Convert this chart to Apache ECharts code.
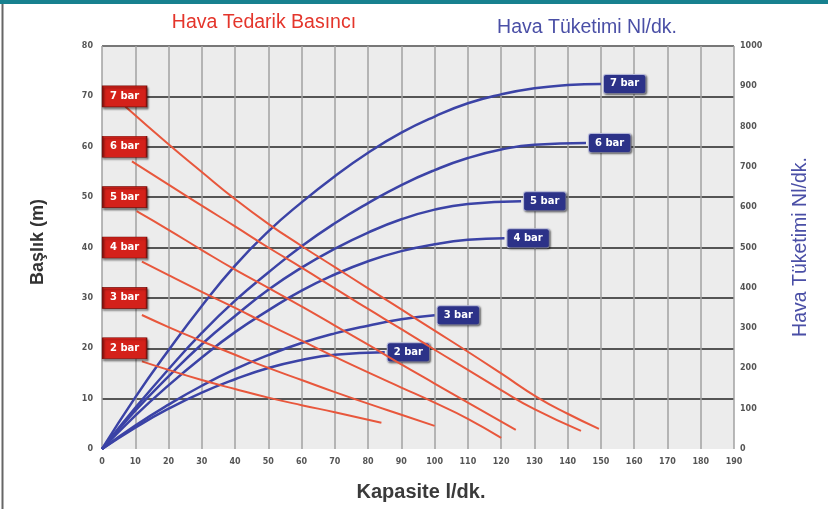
<!DOCTYPE html>
<html>
<head>
<meta charset="utf-8">
<script src="https://cdn.jsdelivr.net/npm/echarts@6/dist/echarts.min.js"></script>
<style>html,body{margin:0;padding:0;background:#fff;}#c{width:828px;height:509px;}</style>
</head>
<body>
<div id="c"></div>
<script>
// ---- data ----
const pressureNames = ['2 bar', '3 bar', '4 bar', '5 bar', '6 bar', '7 bar'];
const labelLevels = [20, 30, 40, 50, 60, 70];

// Head (m) vs capacity (l/dk) — red, left axis
const head2 = [[12, 17.4], [20, 15.7], [30, 13.7], [40, 11.9], [50, 10.2], [60, 8.7], [70, 7.3], [84, 5.2]];
const head3 = [[12, 26.6], [20, 24.2], [30, 21.4], [40, 18.7], [50, 16.1], [60, 13.7], [70, 11.3], [80, 9.0], [90, 6.8], [100, 4.6]];
const head4 = [[12, 37.2], [20, 34.5], [30, 31.2], [40, 28.0], [50, 24.7], [60, 21.5], [70, 18.3], [80, 15.2], [90, 12.2], [100, 9.2], [110, 6.0], [120, 2.2]];
const head5 = [[10.4, 47.2], [20, 43.5], [30, 39.5], [40, 35.6], [50, 32.0], [60, 28.3], [70, 24.5], [80, 20.7], [90, 16.8], [100, 13.0], [110, 9.2], [124.4, 3.8]];
const head6 = [[9, 57.1], [20, 52.5], [30, 48.3], [40, 44.2], [50, 40.0], [60, 36.0], [70, 31.9], [80, 27.8], [90, 23.8], [100, 19.7], [110, 15.7], [120, 11.7], [130, 7.9], [144, 3.6]];
const head7 = [[7, 68.0], [20, 60.5], [30, 55.0], [40, 49.6], [50, 44.7], [60, 40.3], [70, 36.1], [80, 31.9], [90, 27.7], [100, 23.5], [110, 19.3], [120, 15.0], [131, 10.2], [140, 7.0], [149.4, 4.0]];

// Air consumption (Nl/dk) vs capacity — blue, right axis
const air2 = [[0, 0], [10, 53], [20, 100], [30, 140], [40, 173], [50, 201], [60, 221], [70, 234], [85, 240]];
const air3 = [[0, 0], [10, 58], [20, 110], [30, 157], [40, 198], [50, 233], [60, 263], [70, 287], [80, 306], [90, 322], [100, 332]];
const air4 = [[0, 0], [10, 83], [20, 158], [30, 227], [40, 290], [50, 344], [60, 393], [70, 433], [80, 466], [90, 491], [100, 508], [110, 519], [121, 523]];
const air5 = [[0, 0], [10, 95], [20, 180], [30, 260], [40, 330], [50, 395], [60, 450], [70, 497], [80, 537], [90, 570], [100, 594], [110, 608], [126, 615]];
const air6 = [[0, 0], [10, 102], [20, 198], [30, 288], [40, 368], [50, 438], [60, 503], [70, 560], [80, 610], [90, 655], [100, 692], [110, 722], [120, 743], [130, 755], [145.5, 759]];
const air7 = [[0, 0], [10, 128], [20, 245], [30, 355], [40, 455], [50, 540], [60, 612], [70, 677], [80, 735], [90, 785], [100, 825], [110, 858], [120, 880], [130, 895], [140, 903], [150, 906]];

const xTicks = {min: 0, max: 190, interval: 10};
const yLeftTicks = {min: 0, max: 80, interval: 10};
const yRightTicks = {min: 0, max: 1000, interval: 100};

// ---- chart ----
const headSets = [head2, head3, head4, head5, head6, head7];
const airSets = [air2, air3, air4, air5, air6, air7];
const RED = '#e8573c', BLUE = '#3b43a6';
const tickFont = {color: '#555', fontSize: 8, fontWeight: 'bold', fontFamily: 'DejaVu Sans'};

const series = [];
airSets.forEach((d, i) => {
  series.push({
    type: 'line', name: 'air ' + pressureNames[i], yAxisIndex: 1, data: d,
    smooth: true, showSymbol: false, silent: true,
    lineStyle: {color: BLUE, width: 2.5},
    endLabel: {
      show: true, formatter: pressureNames[i], distance: 3,
      color: '#fff', fontSize: 10, fontWeight: 'bold', fontFamily: 'DejaVu Sans',
      backgroundColor: '#2c3288', borderColor: '#b9bce0', borderWidth: 1, borderRadius: 2,
      padding: [4, 6, 4, 6], shadowColor: 'rgba(0,0,0,0.5)', shadowBlur: 2, shadowOffsetX: 1, shadowOffsetY: 1
    },
    z: 3
  });
});
headSets.forEach((d, i) => {
  series.push({
    type: 'line', name: 'head ' + pressureNames[i], yAxisIndex: 0, data: d,
    smooth: true, showSymbol: false, silent: true,
    lineStyle: {color: RED, width: 2},
    markPoint: {
      silent: true, symbol: 'rect', symbolSize: [44, 21],
      itemStyle: {color: '#d4211a', borderColor: '#7a120e', borderWidth: 1,
        shadowColor: 'rgba(0,0,0,0.45)', shadowBlur: 2, shadowOffsetX: 1, shadowOffsetY: 2},
      label: {show: true, formatter: pressureNames[i], color: '#fff', fontSize: 10,
        fontWeight: 'bold', fontFamily: 'DejaVu Sans'},
      data: [{coord: [6.8, labelLevels[i]]}]
    },
    z: 4
  });
});

const chart = echarts.init(document.getElementById('c'), null, {renderer: 'canvas'});
chart.setOption({
  animation: false,
  backgroundColor: '#ffffff',
  grid: {left: 102, right: 94, top: 46, bottom: 60, show: true, backgroundColor: '#ececec', borderWidth: 0},
  xAxis: {
    type: 'value', min: xTicks.min, max: xTicks.max, interval: xTicks.interval,
    axisLine: {show: false}, axisTick: {show: false},
    axisLabel: Object.assign({margin: 9}, tickFont),
    splitLine: {show: true, lineStyle: {color: '#a2a2a2', width: 1.5}}
  },
  yAxis: [{
    type: 'value', min: yLeftTicks.min, max: yLeftTicks.max, interval: yLeftTicks.interval,
    axisLine: {show: false}, axisTick: {show: false},
    axisLabel: Object.assign({margin: 9}, tickFont),
    splitLine: {show: true, lineStyle: {color: ['rgba(0,0,0,0)', '#555', '#555', '#555', '#555', '#555', '#555', '#555', '#777'], width: 2}}
  }, {
    type: 'value', min: yRightTicks.min, max: yRightTicks.max, interval: yRightTicks.interval,
    position: 'right',
    axisLine: {show: false}, axisTick: {show: false},
    axisLabel: Object.assign({margin: 6, formatter: v => String(v)}, tickFont),
    splitLine: {show: false}
  }],
  series: series,
  graphic: [
    {type: 'rect', left: 0, top: 0, shape: {width: 828, height: 509}, style: {fill: 'none', stroke: '#666', lineWidth: 2}, silent: true, z: 100},
    {type: 'rect', left: 0, top: 0, shape: {width: 828, height: 4}, style: {fill: '#17818f'}, silent: true, z: 101},
    {type: 'text', x: 264, y: 23, style: {text: 'Hava Tedarik Basıncı', fill: '#e4352b', font: '19.5px "Liberation Sans"', textAlign: 'center', textVerticalAlign: 'middle'}},
    {type: 'text', x: 587, y: 28, style: {text: 'Hava Tüketimi Nl/dk.', fill: '#4a4fa6', font: '19.5px "Liberation Sans"', textAlign: 'center', textVerticalAlign: 'middle'}},
    {type: 'text', x: 801, y: 247, rotation: Math.PI / 2, style: {text: 'Hava Tüketimi Nl/dk.', fill: '#4a4fa6', font: '19.5px "Liberation Sans"', textAlign: 'center', textVerticalAlign: 'middle'}},
    {type: 'text', x: 38, y: 242, rotation: Math.PI / 2, style: {text: 'Başlık (m)', fill: '#333', font: 'bold 18px "Liberation Sans"', textAlign: 'center', textVerticalAlign: 'middle'}},
    {type: 'text', x: 421, y: 492, style: {text: 'Kapasite l/dk.', fill: '#3a3a3a', font: 'bold 20px "Liberation Sans"', textAlign: 'center', textVerticalAlign: 'middle'}}
  ]
});
</script>
</body>
</html>
